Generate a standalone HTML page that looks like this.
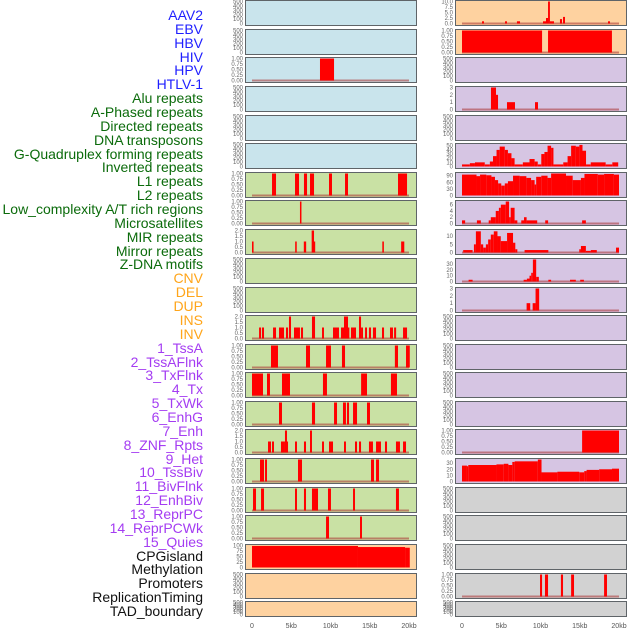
<!DOCTYPE html>
<html><head><meta charset="utf-8">
<style>
html,body{margin:0;padding:0;background:#fff;}
#wrap{position:relative;width:630px;height:630px;overflow:hidden;}
.lab{position:absolute;right:427px;font-family:"Liberation Sans",sans-serif;font-size:14px;line-height:14px;white-space:nowrap;text-align:right;}
svg{position:absolute;left:0;top:0;}
</style></head>
<body>
<div id="wrap">
<div id="labels"></div>
<svg id="chart" width="630" height="630"></svg>
</div>
<script>
// ---- data ----
const trackLabels = ["AAV2","EBV","HBV","HIV","HPV","HTLV-1","Alu repeats","A-Phased repeats","Directed repeats","DNA transposons","G-Quadruplex forming repeats","Inverted repeats","L1 repeats","L2 repeats","Low_complexity A/T rich regions","Microsatellites","MIR repeats","Mirror repeats","Z-DNA motifs","CNV","DEL","DUP","INS","INV","1_TssA","2_TssAFlnk","3_TxFlnk","4_Tx","5_TxWk","6_EnhG","7_Enh","8_ZNF_Rpts","9_Het","10_TssBiv","11_BivFlnk","12_EnhBiv","13_ReprPC","14_ReprPCWk","15_Quies","CPGisland","Methylation","Promoters","ReplicationTiming","TAD_boundary"];
const labelGroups = [6,13,5,15,5];
const xTickLabels = ["0","5kb","10kb","15kb","20kb"];
const xTickValues = [0,5,10,15,20];

const ticks500 = [0,100,200,300,400,500];
const ticksUnit = [0,0.25,0.5,0.75,1];
const ticksTwo = [0,0.5,1,1.5,2];
const ticksCpg = [0,25,50,75,100];
const ticksR1 = [0,2.5,5,7.5,10];
const ticksR4 = [0,1,2,3];
const ticksR6 = [0,10,20,30,40,50];
const ticksR7 = [0,30,60,90];
const ticksR8 = [0,2,4,6];
const ticksR9 = [0,5,10];
const ticksR10 = [0,10,20,30];

// segments: [startKb, endKb, value]
const segL3 = [[8.66,10.45,1]];
const segL7 = [[2.55,3.06,1],[5.48,5.99,1],[6.62,7.01,1],[7.39,7.9,1],[9.81,10.19,1],[11.85,12.23,1],[18.6,19.75,1]];
const segL8 = [[6.11,6.3,1]];
const segL9 = [[0,0.2,1],[5.5,5.7,1],[6.6,6.9,1],[7.6,7.9,2],[7.9,8.05,1],[16.6,16.8,1],[19.0,19.4,1]];
const segL12 = [[0.9,1.15,1],[1.27,1.53,1],[2.68,3.06,1],[3.44,4.08,1],[4.33,4.59,1],[4.71,4.97,2],[5.35,6.11,1],[6.24,6.5,1],[7.64,8.03,2],[8.92,9.17,1],[10.32,11.08,1],[11.34,11.72,1],[11.72,12.23,2],[12.23,12.4,1],[12.61,13.25,1],[13.63,13.89,2],[13.89,14.14,1],[14.4,14.65,1],[14.9,15.16,1],[15.41,15.8,1],[16.56,16.82,1],[17.58,17.96,1],[18.1,18.36,1],[19.24,19.75,1]];
const segL13 = [[2.42,3.31,1],[6.88,7.39,1],[9.43,10.06,1],[11.46,11.85,1],[18.2,18.6,1],[19.62,20.1,1]];
const segL14 = [[0,1.4,1],[1.91,2.29,1],[3.82,4.84,1],[9.04,9.55,1],[13.9,14.65,1],[17.7,18.47,1]];
const segL15 = [[3.44,3.82,1],[7.64,8.03,1],[10.45,10.83,1],[11.59,11.97,1],[12.1,12.36,1],[12.87,13.38,1],[14.65,15.03,1]];
const segL16 = [[2.04,2.42,1],[2.55,2.8,1],[3.69,4.2,1],[4.2,4.46,2],[4.46,4.59,1],[5.48,5.73,1],[6.62,6.88,1],[7.39,7.64,2],[8.92,9.17,1],[9.81,10.32,1],[11.72,11.97,1],[13.12,13.38,1],[13.63,13.89,1],[14.9,15.41,1],[15.8,16.43,1],[16.94,17.2,1],[18.34,18.85,1],[19.24,19.62,1]];
const segL17 = [[1.02,1.53,1],[1.66,1.91,1],[5.86,6.37,1],[15.16,15.54,1],[15.8,16.18,1]];
const segL18 = [[0.13,0.51,1],[1.15,1.53,1],[5.48,5.73,1],[6.62,6.88,1],[7.64,8.41,1],[9.68,10.06,1],[12.87,13.12,1],[18.34,18.72,1]];
const segL19 = [[9.43,9.81,1],[13.76,14.01,1]];
const segL20 = [[0,13.5,98],[13.5,19.5,93],[19.5,20.1,90]];

const segR1 = [[2.55,2.8,1],[5.48,5.73,1],[7.0,7.39,1],[10.32,10.7,1],[10.7,10.96,2.5],[10.96,11.2,10],[11.2,11.72,1],[12.48,12.74,2],[12.87,13.12,3],[18.6,18.85,1]];
const segR2 = [[0,10.2,1],[10.96,19.1,1]];
const segR4 = [[3.69,4.33,3],[4.33,4.59,2],[5.73,6.75,1],[9.3,9.68,1]];
const segR6 = [[0,1.0,5],[1.0,1.65,8],[1.65,2.9,10],[2.9,3.55,5],[3.55,3.95,12],[3.95,4.4,25],[4.4,4.8,40],[4.8,5.45,48],[5.45,5.85,40],[5.85,6.3,32],[6.3,6.7,20],[6.7,7.75,5],[7.75,8.6,10],[8.6,9.25,18],[9.25,9.65,12],[9.65,10.1,5],[10.1,10.5,30],[10.5,10.9,35],[10.9,11.35,50],[11.35,11.65,45],[11.65,12.9,5],[12.9,13.45,10],[13.45,13.9,25],[13.9,14.5,50],[14.5,14.95,48],[14.95,15.35,52],[15.35,15.8,38],[15.8,16.4,5],[16.4,18.3,10],[18.3,19.15,5],[19.15,19.9,10]];
const segR7 = [[0,1.85,95],[1.85,2.3,88],[2.3,3.1,95],[3.1,3.75,92],[3.75,4.2,85],[4.2,4.6,70],[4.6,5.0,55],[5.0,5.45,45],[5.45,5.85,55],[5.85,6.5,65],[6.5,7.35,90],[7.35,8.2,88],[8.2,8.8,80],[8.8,9.25,70],[9.25,9.45,50],[9.45,10.1,85],[10.1,10.9,90],[10.9,11.35,80],[11.35,13.25,100],[13.25,14.1,90],[14.1,15.15,70],[15.15,15.6,80],[15.6,17.3,98],[17.3,18.1,95],[18.1,19.35,98],[19.35,20.0,95]];
const segR8 = [[0,0.4,1],[1.9,2.4,1],[3.4,3.67,1],[3.67,4.3,2],[4.3,4.7,4],[4.7,4.95,5],[4.95,5.57,6],[5.57,6.0,7],[6.0,6.2,2],[6.2,6.7,5],[6.7,7.05,1],[7.55,7.9,1],[7.9,8.23,2],[8.23,9.58,1],[10.6,10.97,1],[15.3,15.78,1]];
const segR9 = [[0.15,1.35,1.5],[1.52,1.77,5],[1.77,2.4,13],[2.4,2.7,5],[2.7,3.04,3],[3.04,3.33,5],[3.33,3.67,8],[3.67,4.05,11],[4.05,4.52,13],[4.52,4.94,10],[4.94,5.74,7],[5.74,6.5,12],[6.5,6.79,6],[6.79,7.05,2],[7.97,11.0,1.5],[14.94,15.15,2],[15.15,15.78,4],[15.78,16.41,1],[16.41,17.17,1.5],[19.62,20.0,3]];
const segR10 = [[0.84,1.35,3],[7.85,8.27,3],[8.27,8.6,5],[8.6,8.82,10],[8.82,9.03,15],[9.03,9.45,38],[9.45,9.79,8],[11.0,11.35,3],[13.76,14.5,3],[15.06,15.53,3]];
const segR11 = [[8.23,8.69,1],[9.0,9.37,1],[9.37,9.83,3]];
const segR16 = [[15.3,20.0,1]];
const segR17 = [[0,0.63,26],[0.63,0.8,25],[0.8,4.39,27],[4.39,5.32,28],[5.32,5.91,29],[5.91,6.41,27],[6.41,6.71,32],[6.71,9.66,33],[9.66,10.13,36],[10.13,12.15,15],[12.15,14.94,16],[14.94,15.57,15],[15.57,15.87,17],[15.87,17.47,19],[17.47,19.11,20],[19.11,20.0,21]];
const segR21 = [[9.94,10.2,1],[10.57,10.96,1],[12.6,12.87,1],[13.9,14.27,1],[18.1,18.47,1]];

// ---- layout ----
const rowTops = [0,29,57,86,115,143,172,200,229,258,287,315,344,372,401,429,458,487,515,544,573,601];
const BLUE="#c9e4ec", GREEN="#c9e1a4", ORANGE="#fed2a0", PURPLE="#d6c5e3", GRAY="#d2d2d2";
function P(col,row,bg,ticks,dec,max,segs,base){return {col,row,bg,ticks,dec,max,segs,base};}
const panels = [
 P(0,0,BLUE,ticks500,0,500,[],false),P(0,1,BLUE,ticks500,0,500,[],false),P(0,2,BLUE,ticksUnit,2,1,segL3,true),
 P(0,3,BLUE,ticks500,0,500,[],false),P(0,4,BLUE,ticks500,0,500,[],false),P(0,5,BLUE,ticks500,0,500,[],false),
 P(0,6,GREEN,ticksUnit,2,1,segL7,true),P(0,7,GREEN,ticksUnit,2,1,segL8,true),P(0,8,GREEN,ticksTwo,1,2,segL9,true),
 P(0,9,GREEN,ticks500,0,500,[],false),P(0,10,GREEN,ticks500,0,500,[],false),P(0,11,GREEN,ticksTwo,1,2,segL12,true),
 P(0,12,GREEN,ticksUnit,2,1,segL13,true),P(0,13,GREEN,ticksUnit,2,1,segL14,true),P(0,14,GREEN,ticksUnit,2,1,segL15,true),
 P(0,15,GREEN,ticksTwo,1,2,segL16,true),P(0,16,GREEN,ticksUnit,2,1,segL17,true),P(0,17,GREEN,ticksUnit,2,1,segL18,true),
 P(0,18,GREEN,ticksUnit,2,1,segL19,true),P(0,19,ORANGE,ticksCpg,0,100,segL20,false),P(0,20,ORANGE,ticks500,0,500,[],false),
 P(0,21,ORANGE,ticks500,0,500,[],false),
 P(1,0,ORANGE,ticksR1,1,10,segR1,true),P(1,1,ORANGE,ticksUnit,2,1,segR2,true),P(1,2,PURPLE,ticks500,0,500,[],false),
 P(1,3,PURPLE,ticksR4,0,3,segR4,true),P(1,4,PURPLE,ticks500,0,500,[],false),P(1,5,PURPLE,ticksR6,0,53,segR6,false),
 P(1,6,PURPLE,ticksR7,0,100,segR7,false),P(1,7,PURPLE,ticksR8,0,7,segR8,true),P(1,8,PURPLE,ticksR9,0,13.5,segR9,true),
 P(1,9,PURPLE,ticksR10,0,38,segR10,true),P(1,10,PURPLE,ticksR4,0,3,segR11,true),P(1,11,PURPLE,ticks500,0,500,[],false),
 P(1,12,PURPLE,ticks500,0,500,[],false),P(1,13,PURPLE,ticks500,0,500,[],false),P(1,14,PURPLE,ticks500,0,500,[],false),
 P(1,15,PURPLE,ticksUnit,2,1,segR16,true),P(1,16,PURPLE,ticksR10,0,36,segR17,false),P(1,17,GRAY,ticks500,0,500,[],false),
 P(1,18,GRAY,ticks500,0,500,[],false),P(1,19,GRAY,ticks500,0,500,[],false),P(1,20,GRAY,ticksUnit,2,1,segR21,true),
 P(1,21,GRAY,ticks500,0,500,[],false)
];

const NS="http://www.w3.org/2000/svg";
const svg=document.getElementById('chart');
function el(tag,attrs,parent){const e=document.createElementNS(NS,tag);for(const k in attrs)e.setAttribute(k,attrs[k]);(parent||svg).appendChild(e);return e;}
function xScale(col,kb){return (col?462:252)+kb*7.85;}
function yScale(p,v){const top=rowTops[p.row];const h=p.row===21?15:25;return top+h-1.5-(v/p.max)*(h-3);}

// labels
const labDiv=document.getElementById('labels');
const labColors=["#1f1fff","#0b6b0b","#ffa51a","#a43cf2","#111111"];
let gi=0,gc=0;
trackLabels.forEach((t,i)=>{
  while(gc>=labelGroups[gi]){gi++;gc=0;}
  gc++;
  const d=document.createElement('div');
  d.className='lab';
  d.style.top=(8+i*13.86)+'px';
  d.style.color=labColors[gi];
  d.textContent=t;
  
  
  labDiv.appendChild(d);
});

panels.forEach(p=>{
  const top=rowTops[p.row];const h=p.row===21?15:25;const left=p.col?455:245;
  const g=el('g',{});
  
  
  const bg=el('rect',{x:left+0.5,y:top+0.5,width:171,height:h,fill:p.bg,stroke:'#5f6468','stroke-width':1},g);
  
  
  if(p.base){
    const bl=el('rect',{x:xScale(p.col,0),y:yScale(p,0)-1,width:xScale(p.col,20)-xScale(p.col,0),height:2,fill:'rgba(170,50,50,0.55)'},g);
    
    
  }
  p.segs.forEach(s=>{
    const x0=xScale(p.col,s[0]),x1=xScale(p.col,s[1]);
    const y0=yScale(p,0),y1=yScale(p,s[2]);
    const r=el('rect',{x:x0,y:Math.min(y0,y1),width:Math.max(0.8,x1-x0),height:Math.abs(y0-y1),fill:'#ff0000'},g);
    
    
  });
  p.ticks.forEach(v=>{
    const t=el('text',{x:left-2,y:yScale(p,v)+2,'text-anchor':'end','font-family':'Liberation Sans, sans-serif','font-size':6,fill:'#666'},g);
    t.textContent=v.toFixed(p.dec);
    
    
  });
});

[0,1].forEach(col=>{
  xTickValues.forEach((v,i)=>{
    const t=el('text',{x:xScale(col,v),y:628,'text-anchor':'middle','font-family':'Liberation Sans, sans-serif','font-size':7,fill:'#555'});
    t.textContent=xTickLabels[i];
    
    
  });
});
</script>
</body></html>
